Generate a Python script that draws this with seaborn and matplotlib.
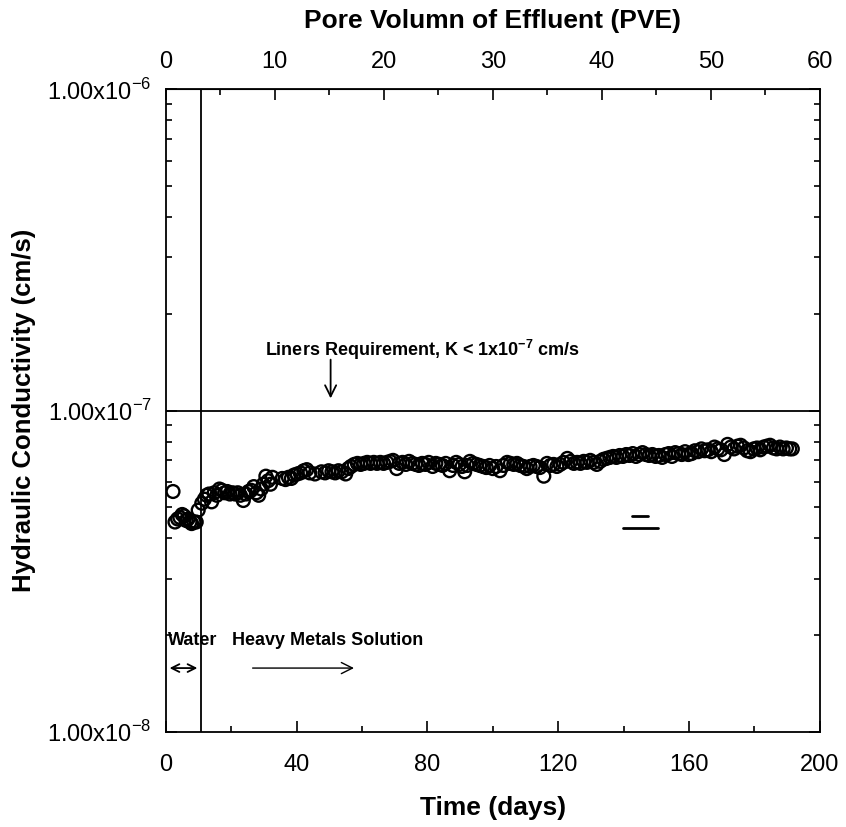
import numpy as np
import pandas as pd
import matplotlib
matplotlib.use("Agg")
import matplotlib.pyplot as plt
import matplotlib.ticker as mticker
import seaborn as sns

# time (days) and hydraulic conductivity (cm/s)
days = [2.2, 2.8, 3.6, 4.3, 5.0, 5.6, 6.2, 6.8, 7.4, 7.9, 8.6, 9.3, 9.9,
        11.0, 11.8, 12.5, 13.2, 14.0, 14.8, 15.6, 16.4, 17.2, 18.0, 18.8, 19.6,
        20.4, 21.2, 22.0, 22.8, 23.7, 24.5, 25.3, 26.1, 26.9, 27.7, 28.4, 29.2,
        29.8, 30.6, 31.3, 32.0, 32.6, 35.6, 36.6, 37.5, 38.4, 39.2, 40.2, 41.2,
        42.2, 43.1, 44.0, 45.6, 47.6, 48.7, 49.8, 50.8, 51.8, 52.8, 53.8, 55.0,
        55.8, 56.6, 57.6, 58.6, 59.6, 60.6, 61.6, 62.6, 63.6, 64.6, 65.6, 66.6,
        67.6, 68.6, 69.5, 70.6, 71.4, 72.4, 73.4, 74.4, 75.4, 76.4, 77.4, 78.4,
        79.4, 80.4, 81.6, 82.6, 83.6, 84.6, 85.6, 86.8, 87.8, 88.8, 89.8, 90.6,
        91.4, 92.2, 93.0, 94.0, 95.0, 96.0, 97.0, 98.0, 99.0, 100.0, 101.0,
        102.2, 103.2, 104.4, 105.4, 106.4, 107.4, 108.4, 109.4, 110.4, 111.4,
        112.4, 113.4, 114.4, 115.6, 116.6, 117.6, 118.6, 119.6, 120.6, 121.6,
        122.8, 123.8, 124.8, 125.8, 126.8, 127.8, 128.8, 129.8, 130.8, 131.8,
        132.8, 133.8, 134.8, 135.8, 136.8, 137.8, 138.8, 139.8, 140.8, 141.8,
        142.8, 143.8, 144.8, 145.8, 146.8, 147.8, 148.8, 149.8, 150.8, 151.8,
        152.8, 153.8, 154.8, 155.8, 156.8, 157.8, 158.8, 159.8, 160.8, 161.8,
        162.8, 163.8, 164.8, 165.8, 166.8, 167.8, 168.8, 169.8, 170.8, 171.8,
        172.8, 173.8, 174.8, 175.8, 176.8, 177.8, 178.8, 179.8, 180.8, 181.8,
        182.8, 183.8, 184.8, 185.8, 186.8, 187.8, 188.8, 189.8, 190.8, 191.6]

k_e8 = [5.6, 4.5, 4.6, 4.65, 4.75, 4.7, 4.55, 4.6, 4.5, 4.45, 4.5, 4.5, 4.9,
        5.15, 5.3, 5.45, 5.5, 5.2, 5.55, 5.45, 5.7, 5.65, 5.55, 5.6, 5.5,
        5.55, 5.5, 5.55, 5.45, 5.25, 5.5, 5.6, 5.65, 5.8, 5.55, 5.45, 5.7,
        5.9, 6.25, 6.05, 5.9, 6.2, 6.15, 6.1, 6.2, 6.15, 6.3, 6.35, 6.4,
        6.5, 6.55, 6.4, 6.35, 6.45, 6.4, 6.5, 6.45, 6.4, 6.5, 6.45, 6.35,
        6.6, 6.7, 6.8, 6.85, 6.8, 6.85, 6.9, 6.85, 6.9, 6.85, 6.9, 6.85,
        6.9, 6.95, 7.0, 6.6, 6.85, 6.9, 6.8, 6.95, 6.85, 6.8, 6.75, 6.85,
        6.8, 6.9, 6.7, 6.85, 6.8, 6.75, 6.85, 6.5, 6.75, 6.9, 6.8, 6.7,
        6.45, 6.75, 6.95, 6.85, 6.8, 6.75, 6.7, 6.65, 6.75, 6.6, 6.7,
        6.5, 6.75, 6.9, 6.85, 6.8, 6.85, 6.75, 6.7, 6.6, 6.7,
        6.75, 6.7, 6.65, 6.25, 6.85, 6.75, 6.8, 6.7, 6.8, 6.9,
        7.1, 6.95, 6.85, 6.9, 6.85, 6.95, 6.9, 7.0, 6.9, 6.8,
        6.95, 7.05, 7.1, 7.15, 7.2, 7.15, 7.25, 7.2, 7.3, 7.25,
        7.35, 7.2, 7.3, 7.4, 7.3, 7.25, 7.3, 7.2, 7.25, 7.15,
        7.3, 7.35, 7.2, 7.4, 7.35, 7.3, 7.45, 7.3, 7.35, 7.5,
        7.45, 7.6, 7.5, 7.55, 7.45, 7.7, 7.6, 7.55, 7.3, 7.85,
        7.7, 7.6, 7.75, 7.8, 7.65, 7.5, 7.45, 7.6, 7.65, 7.55,
        7.7, 7.75, 7.8, 7.65, 7.6, 7.7, 7.6, 7.65, 7.6, 7.6]

# small stray dashes visible in the original figure
dash_x = [[142.5, 147.4], [139.8, 150.5]]
dash_y = [4.70e-8, 4.31e-8]

liner_limit = 1e-7
water_end = 10.7
pve_per_day = 0.3

y_ticks = [1e-8, 1e-7, 1e-6]
y_labels = [r'1.00x10$^{\mathregular{-8}}$', r'1.00x10$^{\mathregular{-7}}$',
            r'1.00x10$^{\mathregular{-6}}$']


def main():
    df = pd.DataFrame({'days': days, 'k': np.array(k_e8) * 1e-8})

    sns.set_style("ticks")
    plt.rcParams['font.family'] = ['Liberation Sans', 'DejaVu Sans']
    plt.rcParams['mathtext.fontset'] = 'custom'
    plt.rcParams['mathtext.rm'] = 'Liberation Sans'
    plt.rcParams['mathtext.bf'] = 'Liberation Sans:bold'
    for key in ['text.color', 'axes.labelcolor', 'xtick.color', 'ytick.color', 'axes.edgecolor']:
        plt.rcParams[key] = 'black'

    fig = plt.figure(figsize=(8.46, 8.27), dpi=100)
    ax = fig.add_axes([0.196, 0.115, 0.773, 0.777])

    sns.scatterplot(data=df, x='days', y='k', ax=ax, marker='o', s=85,
                    facecolors='none', edgecolors='black', linewidth=1.7, legend=False)

    for xs, yv in zip(dash_x, dash_y):
        ax.plot(xs, [yv, yv], color='black', lw=2.0, solid_capstyle='round')

    ax.set_yscale('log')
    ax.set_xlim(0, 200)
    ax.set_ylim(1e-8, 1e-6)

    ax.axhline(liner_limit, color='black', lw=1.3)
    ax.axvline(water_end, color='black', lw=1.3)

    ax.set_xticks([0, 40, 80, 120, 160, 200])
    ax.xaxis.set_minor_locator(mticker.MultipleLocator(20))
    ax.set_yticks(y_ticks)
    ax.set_yticklabels(y_labels)
    ax.yaxis.set_minor_locator(mticker.LogLocator(base=10, subs=np.arange(2, 10)))
    ax.yaxis.set_minor_formatter(mticker.NullFormatter())

    ax.tick_params(which='both', direction='in', right=True, labelsize=17, width=1.2)
    ax.tick_params(axis='x', which='major', length=8, pad=16)
    ax.tick_params(axis='y', which='major', length=8, pad=10)
    ax.tick_params(which='minor', length=4)
    for s in ax.spines.values():
        s.set_linewidth(1.3)
        s.set_visible(True)

    ax.set_xlabel('Time (days)', fontsize=19, fontweight='bold', labelpad=14)
    ax.set_ylabel('Hydraulic Conductivity (cm/s)', fontsize=18.5, fontweight='bold', labelpad=8)

    top = ax.secondary_xaxis('top', functions=(lambda d: d * pve_per_day,
                                               lambda p: p / pve_per_day))
    top.set_xticks([0, 10, 20, 30, 40, 50, 60])
    top.xaxis.set_minor_locator(mticker.MultipleLocator(5))
    top.tick_params(which='both', direction='in', labelsize=17, width=1.2)
    top.tick_params(which='major', length=8, pad=12)
    top.tick_params(which='minor', length=4)
    top.set_xlabel('Pore Volumn of Effluent (PVE)', fontsize=19, fontweight='bold', labelpad=16)

    ax.text(30.3, 1.55e-7, r'Liners Requirement, K < 1x10$^{\mathbf{-7}}$ cm/s',
            fontsize=13, fontweight='bold', va='center', ha='left')
    ax.annotate('', xy=(50.4, 1.07e-7), xytext=(50.4, 1.47e-7),
                arrowprops=dict(arrowstyle='->', color='black', lw=1.3, mutation_scale=20))

    ax.text(0.6, 1.92e-8, 'Water', fontsize=13, fontweight='bold', va='center', ha='left')
    ax.annotate('', xy=(0.3, 1.58e-8), xytext=(10.5, 1.58e-8),
                arrowprops=dict(arrowstyle='<->', color='black', lw=1.3, mutation_scale=14))
    ax.text(20.2, 1.92e-8, 'Heavy Metals Solution', fontsize=13, fontweight='bold',
            va='center', ha='left')
    ax.annotate('', xy=(58.4, 1.58e-8), xytext=(25.7, 1.58e-8),
                arrowprops=dict(arrowstyle='->', color='black', lw=1.0, mutation_scale=20))

    plt.savefig('out.png', dpi=100)


if __name__ == "__main__":
    main()
